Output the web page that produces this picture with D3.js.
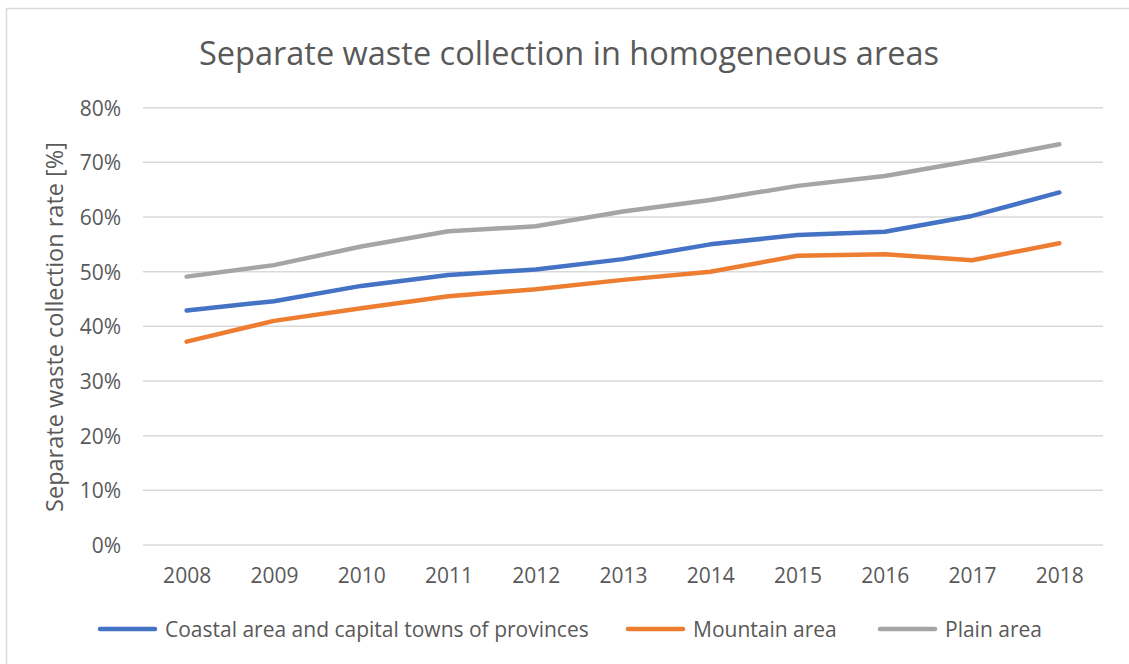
<!DOCTYPE html>
<html>
<head>
<meta charset="utf-8">
<script src="https://cdn.jsdelivr.net/npm/d3@7"></script>
<style>
  html, body { margin: 0; padding: 0; background: #fff; }
  svg { display: block; }
  text { font-family: "Open Sans", "Noto Sans", sans-serif; fill: #595959; }
</style>
</head>
<body>
<svg id="chart" width="1129" height="664"></svg>
<script>
const years = ["2008","2009","2010","2011","2012","2013","2014","2015","2016","2017","2018"];
const coastal = [42.9, 44.6, 47.4, 49.4, 50.4, 52.3, 55.0, 56.7, 57.3, 60.2, 64.5];
const mountain = [37.2, 41.0, 43.3, 45.5, 46.8, 48.5, 50.0, 52.9, 53.2, 52.1, 55.2];
const plain = [49.1, 51.2, 54.6, 57.4, 58.3, 61.0, 63.1, 65.7, 67.5, 70.3, 73.3];
const yTicks = [0, 10, 20, 30, 40, 50, 60, 70, 80];
const seriesNames = ["Coastal area and capital towns of provinces", "Mountain area", "Plain area"];
const seriesColors = ["#4472C4", "#ED7D31", "#A5A5A5"];

const series = [
  { name: seriesNames[0], values: coastal, color: seriesColors[0] },
  { name: seriesNames[1], values: mountain, color: seriesColors[1] },
  { name: seriesNames[2], values: plain, color: seriesColors[2] }
];

const svg = d3.select("#chart");

// chart border (top & left visible)
svg.append("rect")
  .attr("x", 6.5).attr("y", 8.5)
  .attr("width", 1300).attr("height", 800)
  .attr("fill", "none").attr("stroke", "#D9D9D9").attr("stroke-width", 1.5);

const plotL = 143, plotR = 1103, plotT = 107.7, plotB = 545;

const x = d3.scalePoint().domain(years).range([plotL, plotR]).padding(0.5);
const y = d3.scaleLinear().domain([0, 80]).range([plotB, plotT]);

// title
svg.append("text")
  .attr("x", 569).attr("y", 65)
  .attr("text-anchor", "middle")
  .attr("font-size", 32.5)
  .text("Separate waste collection in homogeneous areas");

// gridlines
svg.append("g").selectAll("line").data(yTicks).join("line")
  .attr("x1", plotL).attr("x2", plotR)
  .attr("y1", d => y(d)).attr("y2", d => y(d))
  .attr("stroke", "#D9D9D9").attr("stroke-width", 1.5);

// y axis labels
const yAxis = d3.axisLeft(y).tickValues(yTicks).tickFormat(d => d + "%").tickSize(0).tickPadding(0);
const gy = svg.append("g").attr("transform", `translate(121,0)`).call(yAxis);
gy.select(".domain").remove();
gy.selectAll("text").attr("font-size", 21).attr("font-family", null).attr("fill", "#595959").attr("dy", "0.35em");

// x axis labels
const xAxis = d3.axisBottom(x).tickSize(0).tickPadding(0);
const gx = svg.append("g").attr("transform", `translate(0,583)`).call(xAxis);
gx.select(".domain").remove();
gx.selectAll("text").attr("font-size", 21).attr("font-family", null).attr("fill", "#595959").attr("dy", 0);

// y axis title
svg.append("text")
  .attr("transform", "translate(63,327) rotate(-90)")
  .attr("text-anchor", "middle")
  .attr("font-size", 23.5)
  .text("Separate waste collection rate [%]");

// lines
const line = d3.line().x((d, i) => x(years[i])).y(d => y(d));
svg.append("g").selectAll("path").data(series).join("path")
  .attr("d", d => line(d.values))
  .attr("fill", "none")
  .attr("stroke", d => d.color)
  .attr("stroke-width", 4.5)
  .attr("stroke-linecap", "round")
  .attr("stroke-linejoin", "round");

// legend
const legendX = [100, 628, 880];
const lg = svg.append("g").selectAll("g").data(series).join("g")
  .attr("transform", (d, i) => `translate(${legendX[i]},629)`);
lg.append("line")
  .attr("x1", 0).attr("x2", 55).attr("y1", 0).attr("y2", 0)
  .attr("stroke", d => d.color).attr("stroke-width", 4.5).attr("stroke-linecap", "round");
lg.append("text")
  .attr("x", 65).attr("y", 7.5)
  .attr("font-size", 21)
  .text(d => d.name);
</script>
</body>
</html>
